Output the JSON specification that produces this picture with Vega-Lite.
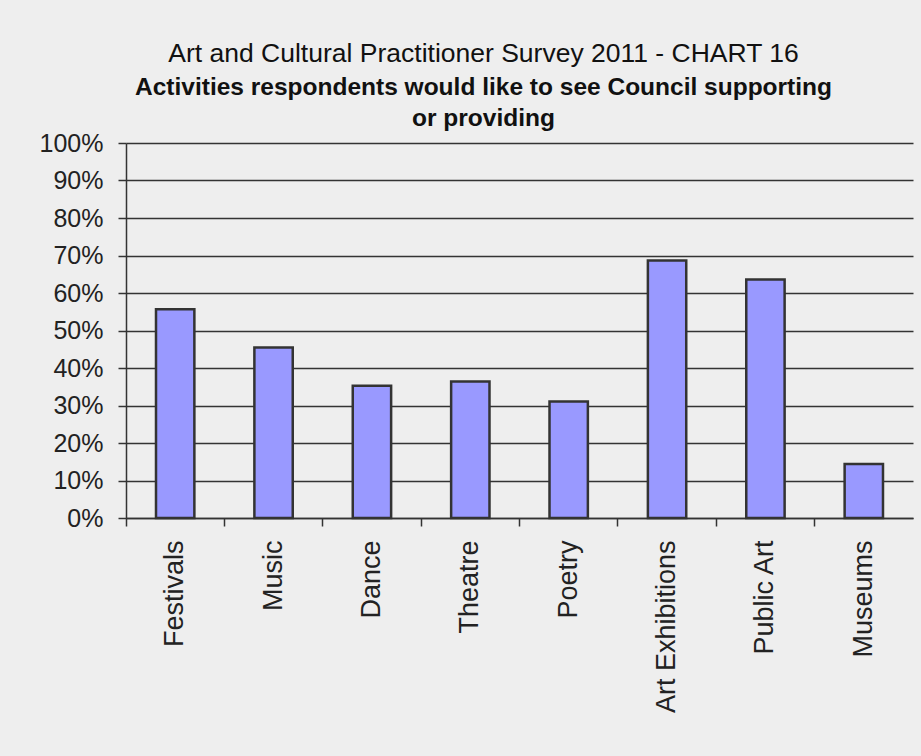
{
  "$schema": "https://vega.github.io/schema/vega-lite/v6.json",
  "width": 787,
  "height": 375,
  "autosize": {"type": "none"},
  "padding": {"left": 126, "top": 143, "right": 8, "bottom": 238},
  "background": "#eeeeee",
  "config": {
    "view": {"stroke": null},
    "font": "Liberation Sans"
  },
  "title": {
    "text": "Art and Cultural Practitioner Survey 2011 - CHART 16",
    "subtitle": ["Activities respondents would like to see Council supporting", "or providing"],
    "anchor": "middle",
    "frame": "group",
    "dx": -36,
    "offset": 1,
    "font": "Liberation Sans",
    "fontSize": 26.5,
    "fontWeight": "normal",
    "color": "#111111",
    "subtitleFont": "Liberation Sans",
    "subtitleFontSize": 24.5,
    "subtitleFontWeight": "bold",
    "subtitleColor": "#111111",
    "subtitleLineHeight": 31,
    "subtitlePadding": 8
  },
  "data": {
    "values": [
      {"activity": "Festivals", "pct": 0.557},
      {"activity": "Music", "pct": 0.455},
      {"activity": "Dance", "pct": 0.353},
      {"activity": "Theatre", "pct": 0.364},
      {"activity": "Poetry", "pct": 0.311},
      {"activity": "Art Exhibitions", "pct": 0.687},
      {"activity": "Public Art", "pct": 0.636},
      {"activity": "Museums", "pct": 0.144}
    ]
  },
  "mark": {
    "type": "bar",
    "width": {"band": 0.39},
    "fill": "#9999ff",
    "stroke": "#333333",
    "strokeWidth": 2.5
  },
  "encoding": {
    "x": {
      "field": "activity",
      "type": "nominal",
      "sort": null,
      "scale": {"paddingInner": 0, "paddingOuter": 0},
      "axis": {
        "title": null,
        "bandPosition": 0,
        "labelAngle": -90,
        "labelAlign": "right",
        "labelBaseline": "middle",
        "labelFont": "Liberation Sans",
        "labelFontSize": 27,
        "labelColor": "#222222",
        "labelPadding": 14,
        "labelOverlap": false,
        "labelBound": false,
        "tickSize": 8,
        "tickColor": "#333333",
        "tickWidth": 1.5,
        "domainColor": "#333333",
        "domainWidth": 1.5,
        "grid": false
      }
    },
    "y": {
      "field": "pct",
      "type": "quantitative",
      "scale": {"domain": [0, 1], "nice": false},
      "axis": {
        "title": null,
        "values": [0, 0.1, 0.2, 0.3, 0.4, 0.5, 0.6, 0.7, 0.8, 0.9, 1],
        "format": ".0%",
        "labelFont": "Liberation Sans",
        "labelFontSize": 25,
        "labelColor": "#222222",
        "labelPadding": 15,
        "tickSize": 8,
        "tickColor": "#333333",
        "tickWidth": 1.5,
        "domainColor": "#333333",
        "domainWidth": 1.5,
        "grid": true,
        "gridColor": "#333333",
        "gridWidth": 1.5,
        "gridOpacity": 1
      }
    }
  }
}
